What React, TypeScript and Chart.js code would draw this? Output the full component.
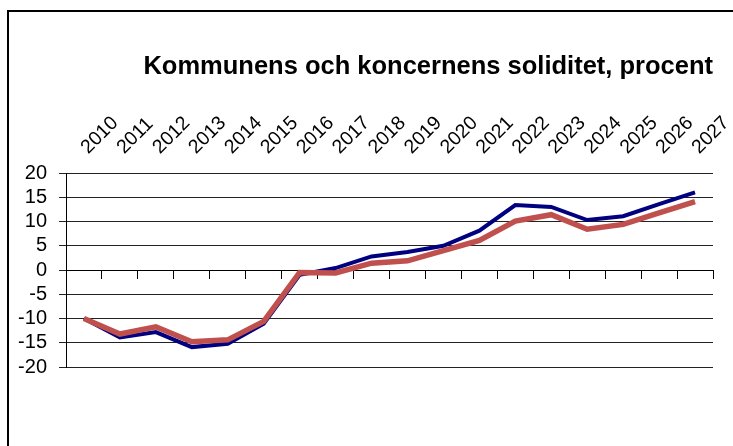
import React, { useEffect, useRef } from "react";
import { Chart, registerables } from "chart.js";

Chart.register(...registerables);

const years = ["2010","2011","2012","2013","2014","2015","2016","2017","2018","2019","2020","2021","2022","2023","2024","2025","2026","2027"];
const kommunen = [-10, -13.9, -12.8, -15.9, -15.2, -11.1, -1.0, 0.4, 2.8, 3.7, 5.0, 8.1, 13.4, 13.0, 10.3, 11.1, 13.6, 16.0];
const koncernen = [-10, -13.2, -11.7, -14.8, -14.4, -10.6, -0.5, -0.6, 1.4, 1.9, 4.0, 6.1, 10.1, 11.4, 8.4, 9.4, 11.8, 14.1];
const titleText = "Kommunens och koncernens soliditet, procent";

const FONT = "'Liberation Sans', Arial, sans-serif";

export default function App() {
  const ref = useRef<HTMLCanvasElement | null>(null);
  useEffect(() => {
    if (!ref.current) return;
    const chart = new Chart(ref.current, {
      type: "line",
      data: {
        labels: years,
        datasets: [
          {
            label: "Kommunen",
            data: kommunen,
            borderColor: "#000080",
            backgroundColor: "#000080",
            borderWidth: 4,
            pointRadius: 0,
            tension: 0,
            order: 2,
            xAxisID: "x",
          },
          {
            label: "Koncernen",
            data: koncernen,
            borderColor: "#C0504D",
            backgroundColor: "#C0504D",
            borderWidth: 5.5,
            pointRadius: 0,
            tension: 0,
            order: 1,
            xAxisID: "x",
          },
        ],
      },
      options: {
        responsive: false,
        animation: false,
        devicePixelRatio: 1,
        layout: { padding: { left: 0, right: 20, top: 0, bottom: 79 } },
        plugins: {
          legend: { display: false },
          tooltip: { enabled: false },
          title: {
            display: true,
            text: titleText,
            align: "end",
            color: "#000",
            font: { family: FONT, size: 25.5, weight: "bold", lineHeight: 1.2 },
            padding: { top: 52, bottom: 0 },
          },
        },
        scales: {
          x2: {
            type: "category",
            position: "top",
            offset: true,
            grid: { display: false, offset: true },
            border: { display: false },
            ticks: {
              autoSkip: false,
              minRotation: 45,
              maxRotation: 45,
              padding: 6,
              labelOffset: 17,
              color: "#000",
              font: { family: FONT, size: 19.5 },
            },
            afterFit: (s: any) => {
              s.height = 173 - 82.6;
              s.paddingLeft = 0;
              s.paddingRight = 0;
            },
          },
          x: {
            type: "category",
            position: { y: 0 },
            offset: true,
            grid: {
              display: true,
              offset: true,
              drawOnChartArea: false,
              drawTicks: true,
              tickLength: 8,
              color: "#000",
              lineWidth: 1,
            },
            border: { display: true, color: "#000", width: 1 },
            ticks: { display: false },
            afterFit: (s: any) => {
              s.paddingLeft = 0;
              s.paddingRight = 0;
            },
          },
          y: {
            type: "linear",
            position: "left",
            min: -20,
            max: 20,
            ticks: {
              stepSize: 5,
              autoSkip: false,
              padding: 12,
              color: "#000",
              font: { family: FONT, size: 20 },
            },
            grid: {
              color: "#222",
              lineWidth: 1,
              drawTicks: true,
              tickLength: 7,
            },
            border: { display: true, color: "#000", width: 1 },
            afterFit: (s: any) => {
              s.width = 66;
              s.paddingTop = 0;
              s.paddingBottom = 0;
            },
          },
        },
      },
    });
    return () => chart.destroy();
  }, []);

  return (
    <div
      style={{
        position: "fixed",
        left: 0,
        top: 0,
        width: 733,
        height: 446,
        overflow: "hidden",
        background: "#fff",
      }}
    >
      <div
        style={{
          position: "absolute",
          left: 7,
          top: 10,
          width: 1000,
          height: 1000,
          borderLeft: "2px solid #000",
          borderTop: "2px solid #000",
        }}
      />
      <canvas
        ref={ref}
        width={733}
        height={446}
        style={{ position: "absolute", left: 0, top: 0, width: 733, height: 446 }}
      />
    </div>
  );
}
